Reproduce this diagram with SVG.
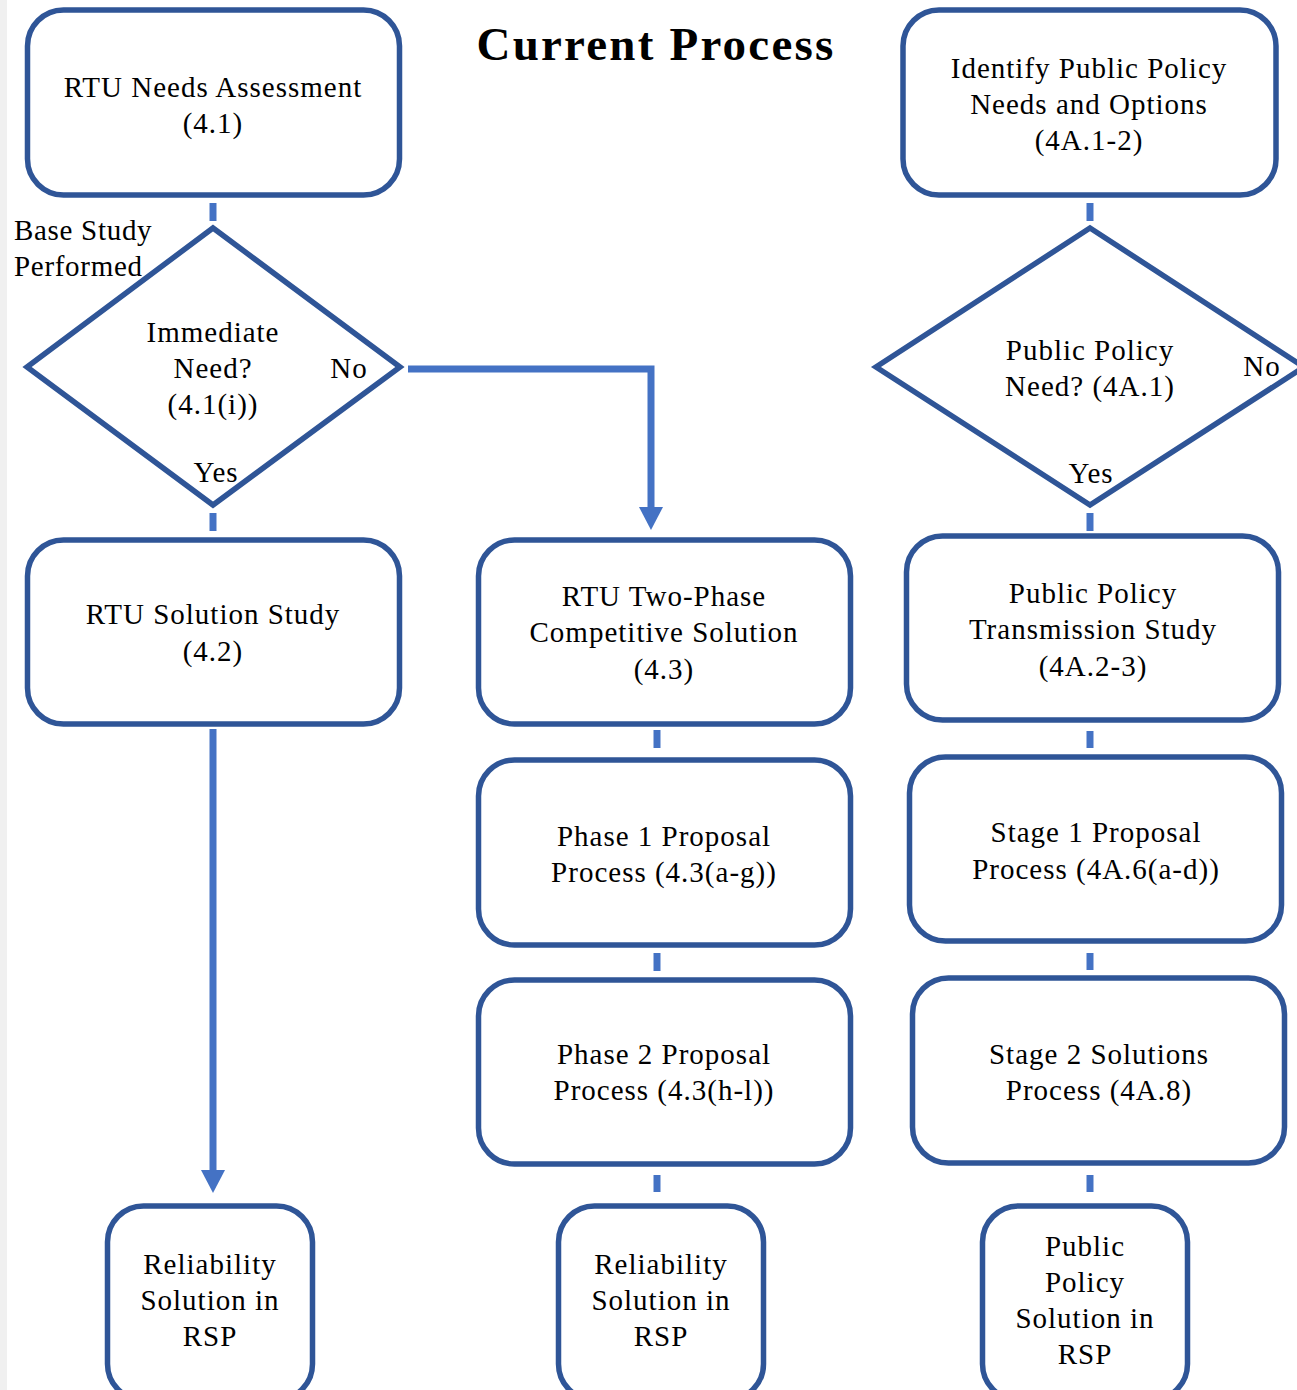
<svg xmlns="http://www.w3.org/2000/svg" width="1297" height="1390" viewBox="0 0 1297 1390">
<defs>
<style>
.box{fill:#fff;stroke:#2f5597;stroke-width:5.5}
.dia{fill:#fff;stroke:#2f5597;stroke-width:5.5;stroke-linejoin:miter}
.con{stroke:#4472c4;stroke-width:7;fill:none}
.ah{fill:#4472c4}
.t{font-family:"Liberation Serif","Times New Roman",serif;font-size:29px;fill:#000;text-anchor:middle;letter-spacing:1px}
.tl{font-family:"Liberation Serif","Times New Roman",serif;font-size:29px;fill:#000;letter-spacing:0.7px}
.title{font-family:"Liberation Serif","Times New Roman",serif;font-size:47px;font-weight:bold;fill:#000;text-anchor:middle;letter-spacing:2.2px}
</style>
</defs>
<rect x="0" y="0" width="1297" height="1390" fill="#fff"/>
<rect x="0" y="0" width="7" height="1390" fill="#f0f0f0"/>

<text class="title" x="656" y="60">Current Process</text>

<g id="connectors">
<line class="con" x1="213" y1="203" x2="213" y2="221"/>
<line class="con" x1="213" y1="513" x2="213" y2="531"/>
<line class="con" x1="213" y1="729" x2="213" y2="1172" stroke-width="8"/>
<polygon class="ah" points="201,1170 225,1170 213,1193"/>
<polyline class="con" points="408,369 651,369 651,509"/>
<polygon class="ah" points="639,507 663,507 651,530"/>
<line class="con" x1="657" y1="730" x2="657" y2="748"/>
<line class="con" x1="657" y1="953" x2="657" y2="971"/>
<line class="con" x1="657" y1="1175" x2="657" y2="1192"/>
<line class="con" x1="1090" y1="203" x2="1090" y2="221"/>
<line class="con" x1="1090" y1="513" x2="1090" y2="531"/>
<line class="con" x1="1090" y1="731" x2="1090" y2="748"/>
<line class="con" x1="1090" y1="953" x2="1090" y2="970"/>
<line class="con" x1="1090" y1="1175" x2="1090" y2="1192"/>
</g>

<g id="n-needs">
<rect class="box" x="27.5" y="10" width="372" height="185" rx="36"/>
<text class="t" x="213" y="97">RTU Needs Assessment</text>
<text class="t" x="213" y="133">(4.1)</text>
</g>

<g id="n-identify">
<rect class="box" x="903" y="10" width="373" height="185" rx="36"/>
<text class="t" x="1089" y="78">Identify Public Policy</text>
<text class="t" x="1089" y="114">Needs and Options</text>
<text class="t" x="1089" y="150">(4A.1-2)</text>
</g>

<g id="l-base">
<text class="tl" x="14" y="240">Base Study</text>
<text class="tl" x="14" y="276">Performed</text>
</g>

<g id="n-immediate">
<polygon class="dia" points="213,228 400,367 213,505 27,367"/>
<text class="t" x="213" y="342">Immediate</text>
<text class="t" x="213" y="378">Need?</text>
<text class="t" x="213" y="414">(4.1(i))</text>
<text class="t" x="349" y="378">No</text>
<text class="t" x="216" y="482">Yes</text>
</g>

<g id="n-ppneed">
<polygon class="dia" points="1090,228 1304,367 1090,505 876,367"/>
<text class="t" x="1090" y="360">Public Policy</text>
<text class="t" x="1090" y="396">Need? (4A.1)</text>
<text class="t" x="1262" y="376">No</text>
<text class="t" x="1091" y="483">Yes</text>
</g>

<g id="n-solstudy">
<rect class="box" x="27.5" y="540" width="372" height="184" rx="36"/>
<text class="t" x="213" y="624">RTU Solution Study</text>
<text class="t" x="213" y="661">(4.2)</text>
</g>

<g id="n-twophase">
<rect class="box" x="478.5" y="540" width="372" height="184" rx="36"/>
<text class="t" x="664" y="606">RTU Two-Phase</text>
<text class="t" x="664" y="642">Competitive Solution</text>
<text class="t" x="664" y="679">(4.3)</text>
</g>

<g id="n-ppts">
<rect class="box" x="906.5" y="536" width="372" height="184" rx="36"/>
<text class="t" x="1093" y="603">Public Policy</text>
<text class="t" x="1093" y="639">Transmission Study</text>
<text class="t" x="1093" y="676">(4A.2-3)</text>
</g>

<g id="n-phase1">
<rect class="box" x="478.5" y="760" width="372" height="185" rx="36"/>
<text class="t" x="664" y="846">Phase 1 Proposal</text>
<text class="t" x="664" y="882">Process (4.3(a-g))</text>
</g>

<g id="n-stage1">
<rect class="box" x="909.5" y="757" width="372" height="184" rx="36"/>
<text class="t" x="1096" y="842">Stage 1 Proposal</text>
<text class="t" x="1096" y="879">Process (4A.6(a-d))</text>
</g>

<g id="n-phase2">
<rect class="box" x="478.5" y="980" width="372" height="184" rx="36"/>
<text class="t" x="664" y="1064">Phase 2 Proposal</text>
<text class="t" x="664" y="1100">Process (4.3(h-l))</text>
</g>

<g id="n-stage2">
<rect class="box" x="912.5" y="978" width="372" height="185" rx="36"/>
<text class="t" x="1099" y="1064">Stage 2 Solutions</text>
<text class="t" x="1099" y="1100">Process (4A.8)</text>
</g>

<g id="n-rel1">
<rect class="box" x="107.5" y="1206" width="205" height="194" rx="36"/>
<text class="t" x="210" y="1274">Reliability</text>
<text class="t" x="210" y="1310">Solution in</text>
<text class="t" x="210" y="1346">RSP</text>
</g>

<g id="n-rel2">
<rect class="box" x="558.5" y="1206" width="205" height="194" rx="36"/>
<text class="t" x="661" y="1274">Reliability</text>
<text class="t" x="661" y="1310">Solution in</text>
<text class="t" x="661" y="1346">RSP</text>
</g>

<g id="n-ppsol">
<rect class="box" x="982.5" y="1206" width="205" height="194" rx="36"/>
<text class="t" x="1085" y="1256">Public</text>
<text class="t" x="1085" y="1292">Policy</text>
<text class="t" x="1085" y="1328">Solution in</text>
<text class="t" x="1085" y="1364">RSP</text>
</g>
</svg>
